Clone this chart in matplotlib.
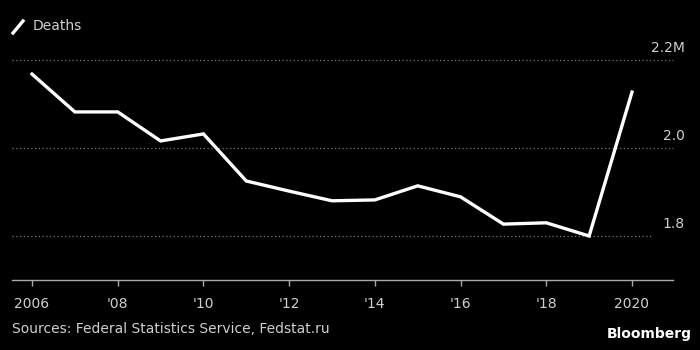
import matplotlib
matplotlib.use("Agg")
import matplotlib.pyplot as plt
from matplotlib.lines import Line2D

# Russia deaths, millions
years = [2006, 2007, 2008, 2009, 2010, 2011, 2012, 2013, 2014, 2015, 2016, 2017, 2018, 2019, 2020]
deaths = [2.168, 2.082, 2.082, 2.016, 2.032, 1.925, 1.902, 1.880, 1.882, 1.914, 1.889, 1.827, 1.830, 1.800, 2.127]
tick_years = [2006, 2008, 2010, 2012, 2014, 2016, 2018, 2020]
tick_labels = ["2006", "'08", "'10", "'12", "'14", "'16", "'18", "2020"]
grid_vals = [1.8, 2.0, 2.2]
grid_labels = ["1.8", "2.0", "2.2M"]

bg = "black"
txt = "#cfcfcf"

fig = plt.figure(figsize=(7, 3.5), dpi=100, facecolor=bg)
ax = fig.add_axes([12 / 700, 1 - 280 / 350, 661 / 700, 220 / 350], facecolor=bg)

ax.plot(years, deaths, color="white", lw=2.4, solid_joinstyle="miter", zorder=3)

ax.set_xlim(2005.533, 2020.957)
ax.set_ylim(1.7, 2.2)

# dotted gridlines + right-side labels above them
for v, lab in zip(grid_vals, grid_labels):
    xmax = 0.968 if v == 1.8 else 1.0
    ax.axhline(v, xmin=0, xmax=xmax, color="#777777", lw=0.9, ls=(0, (1, 2)), clip_on=False)
    ax.text(1.018, v + 0.012, lab, transform=ax.get_yaxis_transform(), ha="right", va="bottom",
            color=txt, fontsize=10)

for s in ["top", "right", "left"]:
    ax.spines[s].set_visible(False)
ax.spines["bottom"].set_color("#aaaaaa")
ax.spines["bottom"].set_linewidth(1.0)
ax.set_yticks([])
ax.set_xticks(tick_years)
ax.set_xticklabels(tick_labels)
ax.tick_params(axis="x", colors="#aaaaaa", labelcolor=txt, labelsize=10, length=4, width=1, pad=8)

# legend
fig.add_artist(Line2D([13 / 700, 23 / 700], [1 - 33 / 350, 1 - 21 / 350], color="white", lw=2.4,
                      transform=fig.transFigure))
fig.text(33 / 700, 1 - 26 / 350, "Deaths", color=txt, fontsize=10, va="center")

fig.text(12 / 700, 1 - 329 / 350, "Sources: Federal Statistics Service, Fedstat.ru", color=txt,
         fontsize=10, va="center")
fig.text(692 / 700, 1 - 334 / 350, "Bloomberg", color="white", fontsize=10, fontweight="bold",
         ha="right", va="center")

fig.savefig("out.png", dpi=100, facecolor=bg)
